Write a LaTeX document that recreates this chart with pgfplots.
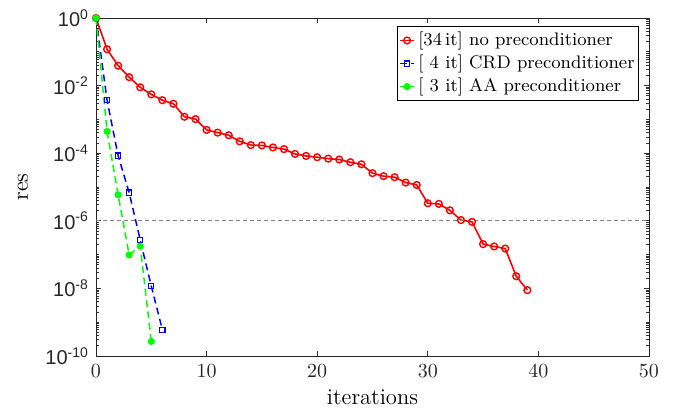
\documentclass[border=0pt]{standalone}
\usepackage{fontspec}
\usepackage{pgfplots}
\pgfplotsset{compat=1.18}
\newfontfamily\ticksf{Liberation Sans}
\begin{document}
\begin{tikzpicture}
\begin{axis}[
  scale only axis,
  width=276.5pt, height=169pt,
  ymode=log,
  xmin=0, xmax=50, ymin=1e-10, ymax=1,
  xtick={0,10,20,30,40,50},
  ytick={1e-10,1e-8,1e-6,1e-4,1e-2,1},
  yticklabels={10\textsuperscript{-10},10\textsuperscript{-8},10\textsuperscript{-6},10\textsuperscript{-4},10\textsuperscript{-2},10\textsuperscript{0}},
  minor ytick={2e-10,3e-10,4e-10,5e-10,6e-10,7e-10,8e-10,9e-10,
    1e-9,2e-9,3e-9,4e-9,5e-9,6e-9,7e-9,8e-9,9e-9,
    2e-8,3e-8,4e-8,5e-8,6e-8,7e-8,8e-8,9e-8,
    1e-7,2e-7,3e-7,4e-7,5e-7,6e-7,7e-7,8e-7,9e-7,
    2e-6,3e-6,4e-6,5e-6,6e-6,7e-6,8e-6,9e-6,
    1e-5,2e-5,3e-5,4e-5,5e-5,6e-5,7e-5,8e-5,9e-5,
    2e-4,3e-4,4e-4,5e-4,6e-4,7e-4,8e-4,9e-4,
    1e-3,2e-3,3e-3,4e-3,5e-3,6e-3,7e-3,8e-3,9e-3,
    2e-2,3e-2,4e-2,5e-2,6e-2,7e-2,8e-2,9e-2,
    1e-1,2e-1,3e-1,4e-1,5e-1,6e-1,7e-1,8e-1,9e-1},
  tick align=inside,
  major tick length=2.6pt,
  minor tick length=1.5pt,
  every tick/.style={black!80, line width=0.4pt},
  axis line style={black!85, line width=0.45pt},
  ticklabel style={font=\ticksf\fontsize{10}{12}\selectfont, black!85},
  xticklabel style={yshift=-1pt},
  xlabel={iterations},
  ylabel={res},
  label style={font=\fontsize{11.3}{13}\selectfont},
  xlabel style={at={(axis description cs:0.5,-0.121)}, anchor=center},
  ylabel style={at={(axis description cs:-0.132,0.5)}, anchor=center},
  legend style={at={(rel axis cs:0.982,0.976)}, anchor=north east,
    draw=black, line width=0.45pt, font=\fontsize{9.1}{10}\selectfont,
    inner xsep=0.5pt, inner ysep=0.8pt, row sep=-0.8pt, cells={anchor=west},
    nodes={inner xsep=1.5pt}},
  legend image code/.code={\draw[mark repeat=2,mark phase=2] plot coordinates {(0cm,0cm)(0.13cm,0cm)(0.26cm,0cm)};},
]
\addplot[red, line width=0.8pt, mark=o, mark size=1.7pt, mark options={solid, line width=0.7pt}] coordinates {
(0,1) (1,1.19e-1) (2,3.89e-2) (3,1.78e-2) (4,8.9e-3) (5,5.5e-3) (6,3.7e-3) (7,2.9e-3)
(8,1.2e-3) (9,1.02e-3) (10,4.9e-4) (11,4.07e-4) (12,3.39e-4) (13,2.24e-4) (14,1.74e-4)
(15,1.70e-4) (16,1.48e-4) (17,1.32e-4) (18,9.5e-5) (19,8.3e-5) (20,7.6e-5) (21,6.9e-5)
(22,6.5e-5) (23,5.4e-5) (24,4.7e-5) (25,2.57e-5) (26,2.09e-5) (27,1.95e-5) (28,1.35e-5)
(29,1.15e-5) (30,3.3e-6) (31,3.16e-6) (32,2.04e-6) (33,1.05e-6) (34,9.3e-7) (35,2.04e-7)
(36,1.74e-7) (37,1.51e-7) (38,2.29e-8) (39,8.9e-9)};
\addlegendentry{[34\,it] no preconditioner}
\addplot[blue, line width=0.75pt, dash pattern=on 3.5pt off 2.2pt, mark=square, mark size=1.3pt, mark options={solid, line width=0.6pt}] coordinates {
(0,1) (1,3.7e-3) (2,8.5e-5) (3,6.8e-6) (4,2.7e-7) (5,1.17e-8) (6,6.0e-10)};
\addlegendentry{[\ 4 it] CRD preconditioner}
\addplot[green, line width=0.75pt, dash pattern=on 3.5pt off 2.2pt, mark=*, mark size=1.4pt, mark options={solid}] coordinates {
(0,1) (1,4.4e-4) (2,5.9e-6) (3,9.8e-8) (4,1.78e-7) (5,2.7e-10)};
\addlegendentry{[\ 3 it] AA preconditioner}
\addplot[gray, line width=0.45pt, dash pattern=on 2pt off 1.5pt, forget plot] coordinates {(0,1e-6) (50,1e-6)};
\path (rel axis cs:0,0) ++(-48pt,-26.5pt) coordinate (bbsw);
\path (rel axis cs:1,1) ++(18.5pt,9pt) coordinate (bbne);
\end{axis}
\path[draw=none] (bbsw) rectangle (bbne);
\end{tikzpicture}
\end{document}
